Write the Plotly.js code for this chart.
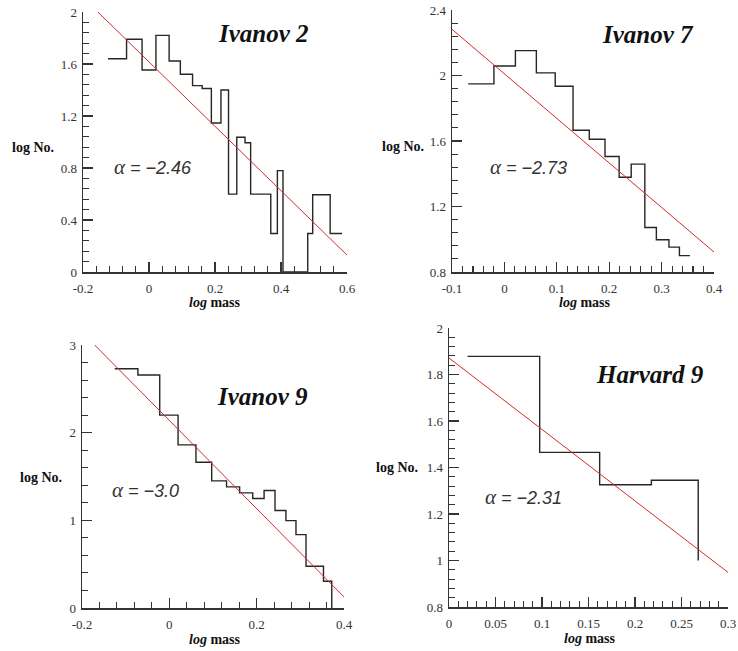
<!DOCTYPE html>
<html>
<head>
<meta charset="utf-8">
<script src="https://cdn.plot.ly/plotly-3.0.1.min.js"></script>
<style>html,body{margin:0;padding:0;background:#fff;}#chart{width:738px;height:651px;}</style>
</head>
<body>
<div id="chart"></div>
<script>
// ---- Ivanov 2 ----
const iv2Edges = [-0.124, -0.068, -0.021, 0.021, 0.061, 0.095, 0.132, 0.161, 0.189, 0.218, 0.241, 0.266, 0.291, 0.308, 0.369, 0.389, 0.406, 0.481, 0.496, 0.549, 0.585];
const iv2Counts = [1.64, 1.79, 1.554, 1.82, 1.623, 1.521, 1.434, 1.411, 1.146, 1.40, 0.599, 1.037, 0.994, 0.599, 0.296, 0.78, 0.0, 0.296, 0.594, 0.296, 0.296];
const iv2FitX = [-0.155, 0.6];
const iv2FitY = [2.0, 0.13];

// ---- Ivanov 7 ----
const iv7Edges = [-0.069, -0.020, 0.021, 0.061, 0.097, 0.131, 0.162, 0.192, 0.219, 0.242, 0.268, 0.290, 0.314, 0.334, 0.354];
const iv7Counts = [1.949, 2.058, 2.152, 2.016, 1.934, 1.666, 1.611, 1.505, 1.379, 1.459, 1.072, 0.997, 0.952, 0.900, 0.900];
const iv7FitX = [-0.1, 0.4];
const iv7FitY = [2.282, 0.922];

// ---- Ivanov 9 ----
const iv9Edges = [-0.125, -0.072, -0.022, 0.020, 0.061, 0.097, 0.131, 0.161, 0.191, 0.217, 0.242, 0.267, 0.290, 0.313, 0.353, 0.372];
const iv9Counts = [2.729, 2.657, 2.200, 1.861, 1.663, 1.450, 1.382, 1.313, 1.249, 1.340, 1.112, 0.997, 0.837, 0.476, 0.305, 0.0];
const iv9FitX = [-0.171, 0.4];
const iv9FitY = [3.0, 0.126];

// ---- Harvard 9 ----
const hv9Edges = [0.020, 0.0975, 0.162, 0.2176, 0.268];
const hv9Counts = [1.878, 1.465, 1.326, 1.345, 1.0];
const hv9FitX = [0.0, 0.3];
const hv9FitY = [1.871, 0.949];

// tick labels
const iv2XTicks = [-0.2, 0, 0.2, 0.4, 0.6];
const iv2XText = ["-0.2", "0", "0.2", "0.4", "0.6"];
const iv2YTicks = [0, 0.4, 0.8, 1.2, 1.6, 2];
const iv2YText = ["0", "0.4", "0.8", "1.2", "1.6", "2"];
const iv7XTicks = [-0.1, 0, 0.1, 0.2, 0.3, 0.4];
const iv7XText = ["-0.1", "0", "0.1", "0.2", "0.3", "0.4"];
const iv7YTicks = [0.8, 1.2, 1.6, 2, 2.4];
const iv7YText = ["0.8", "1.2", "1.6", "2", "2.4"];
const iv9XTicks = [-0.2, 0, 0.2, 0.4];
const iv9XText = ["-0.2", "0", "0.2", "0.4"];
const iv9YTicks = [0, 1, 2, 3];
const iv9YText = ["0", "1", "2", "3"];
const hv9XTicks = [0, 0.05, 0.1, 0.15, 0.2, 0.25, 0.3];
const hv9XText = ["0", "0.05", "0.1", "0.15", "0.2", "0.25", "0.3"];
const hv9YTicks = [0.8, 1, 1.2, 1.4, 1.6, 1.8, 2];
const hv9YText = ["0.8", "1", "1.2", "1.4", "1.6", "1.8", "2"];

const panelNames = ["Ivanov 2", "Ivanov 7", "Ivanov 9", "Harvard 9"];
const alphaLabels = ["−2.46", "−2.73", "−3.0", "−2.31"];

const SERIF = '"Liberation Serif", "Times New Roman", Times, serif';
const SANS = '"Liberation Sans", Arial, sans-serif';

const stepStyle = {color: '#262626', width: 1.4, shape: 'hv'};
const fitStyle = {color: '#d42a2a', width: 1};

function stepTrace(x, y, xa, ya) {
  return {x: x, y: y, xaxis: xa, yaxis: ya, mode: 'lines', line: stepStyle, hoverinfo: 'skip', showlegend: false, cliponaxis: false};
}
function fitTrace(x, y, xa, ya) {
  return {x: x, y: y, xaxis: xa, yaxis: ya, mode: 'lines', line: fitStyle, hoverinfo: 'skip', showlegend: false, cliponaxis: false};
}

const data = [
  stepTrace(iv2Edges, iv2Counts, 'x', 'y'), fitTrace(iv2FitX, iv2FitY, 'x', 'y'),
  stepTrace(iv7Edges, iv7Counts, 'x2', 'y2'), fitTrace(iv7FitX, iv7FitY, 'x2', 'y2'),
  stepTrace(iv9Edges, iv9Counts, 'x3', 'y3'), fitTrace(iv9FitX, iv9FitY, 'x3', 'y3'),
  stepTrace(hv9Edges, hv9Counts, 'x4', 'y4'), fitTrace(hv9FitX, hv9FitY, 'x4', 'y4')
];

const tickFont = {family: SERIF, size: 13, color: '#333'};

function xAxis(domain, range, tv, tt, minorD, anchor) {
  return {domain: domain, range: range, anchor: anchor, tickmode: 'array', tickvals: tv, ticktext: tt,
    ticks: 'inside', ticklen: 10, tickwidth: 1.3, tickcolor: '#333', ticklabelstandoff: 4,
    minor: {tickmode: 'linear', tick0: range[0], dtick: minorD, ticks: 'inside', ticklen: 6, tickwidth: 1.1, tickcolor: '#333', showgrid: false},
    showline: true, linecolor: '#333', linewidth: 1.5, showgrid: false, zeroline: false, mirror: false,
    tickfont: tickFont, fixedrange: true};
}
function yAxis(domain, range, tv, tt, minorD, anchor) {
  return {domain: domain, range: range, anchor: anchor, tickmode: 'array', tickvals: tv, ticktext: tt,
    ticks: 'inside', ticklen: 10, tickwidth: 1.3, tickcolor: '#333', ticklabelstandoff: 2,
    minor: {tickmode: 'linear', tick0: range[0], dtick: minorD, ticks: 'inside', ticklen: 6, tickwidth: 1.1, tickcolor: '#333', showgrid: false},
    showline: true, linecolor: '#333', linewidth: 1.5, showgrid: false, zeroline: false, mirror: false,
    tickfont: tickFont, fixedrange: true};
}

const W = 738, H = 651;
const px = v => v / W;
const py = v => 1 - v / H;

const titleFont = {family: SERIF, size: 25, color: '#111', weight: 'bold', style: 'italic'};
const alphaFont = {family: SANS, size: 18, color: '#333', style: 'italic'};
const axTitleFont = {family: SERIF, size: 14, color: '#111', weight: 'bold'};

const titlePos = [[263, 33], [648, 35], [262, 397], [650, 375]];
const alphaPos = [[153, 167], [528, 167], [145, 490], [523, 497]];
const yTitlePos = [[33, 147], [403, 146], [41, 477], [397, 467]];
const xTitlePos = [[215, 302], [585, 302], [215, 639], [590, 638]];

const annotations = [];
for (let i = 0; i < 4; i++) {
  annotations.push({xref: 'paper', yref: 'paper', x: px(titlePos[i][0]), y: py(titlePos[i][1]), xanchor: 'center', yanchor: 'middle',
    text: panelNames[i], showarrow: false, font: titleFont});
  annotations.push({xref: 'paper', yref: 'paper', x: px(alphaPos[i][0]), y: py(alphaPos[i][1]), xanchor: 'center', yanchor: 'middle',
    text: '<span style="font-family:\'Liberation Serif\', serif;font-size:21px">α</span> = ' + alphaLabels[i], showarrow: false, font: alphaFont});
  annotations.push({xref: 'paper', yref: 'paper', x: px(yTitlePos[i][0]), y: py(yTitlePos[i][1]), xanchor: 'center', yanchor: 'middle',
    text: 'log No.', showarrow: false, font: axTitleFont});
  annotations.push({xref: 'paper', yref: 'paper', x: px(xTitlePos[i][0]), y: py(xTitlePos[i][1]), xanchor: 'center', yanchor: 'middle',
    text: '<i>log</i> mass', showarrow: false, font: axTitleFont});
}

const layout = {
  width: W, height: H,
  margin: {l: 0, r: 0, t: 0, b: 0},
  paper_bgcolor: '#fff', plot_bgcolor: 'rgba(0,0,0,0)',
  showlegend: false,
  font: {family: SERIF},
  xaxis: xAxis([px(83), px(347)], [-0.2, 0.6], iv2XTicks, iv2XText, 0.04, 'y'),
  yaxis: yAxis([py(272), py(12)], [0, 2], iv2YTicks, iv2YText, 0.08, 'x'),
  xaxis2: xAxis([px(452), px(714)], [-0.1, 0.4], iv7XTicks, iv7XText, 0.02, 'y2'),
  yaxis2: yAxis([py(272), py(10)], [0.8, 2.4], iv7YTicks, iv7YText, 0.08, 'x2'),
  xaxis3: xAxis([px(82), px(344)], [-0.2, 0.4], iv9XTicks, iv9XText, 0.04, 'y3'),
  yaxis3: yAxis([py(608), py(345)], [0, 3], iv9YTicks, iv9YText, 0.2, 'x3'),
  xaxis4: xAxis([px(449), px(728)], [0, 0.3], hv9XTicks, hv9XText, 0.01, 'y4'),
  yaxis4: yAxis([py(607), py(328)], [0.8, 2], hv9YTicks, hv9YText, 0.04, 'x4'),
  annotations: annotations
};

Plotly.newPlot('chart', data, layout, {displayModeBar: false, staticPlot: true});
</script>
</body>
</html>
